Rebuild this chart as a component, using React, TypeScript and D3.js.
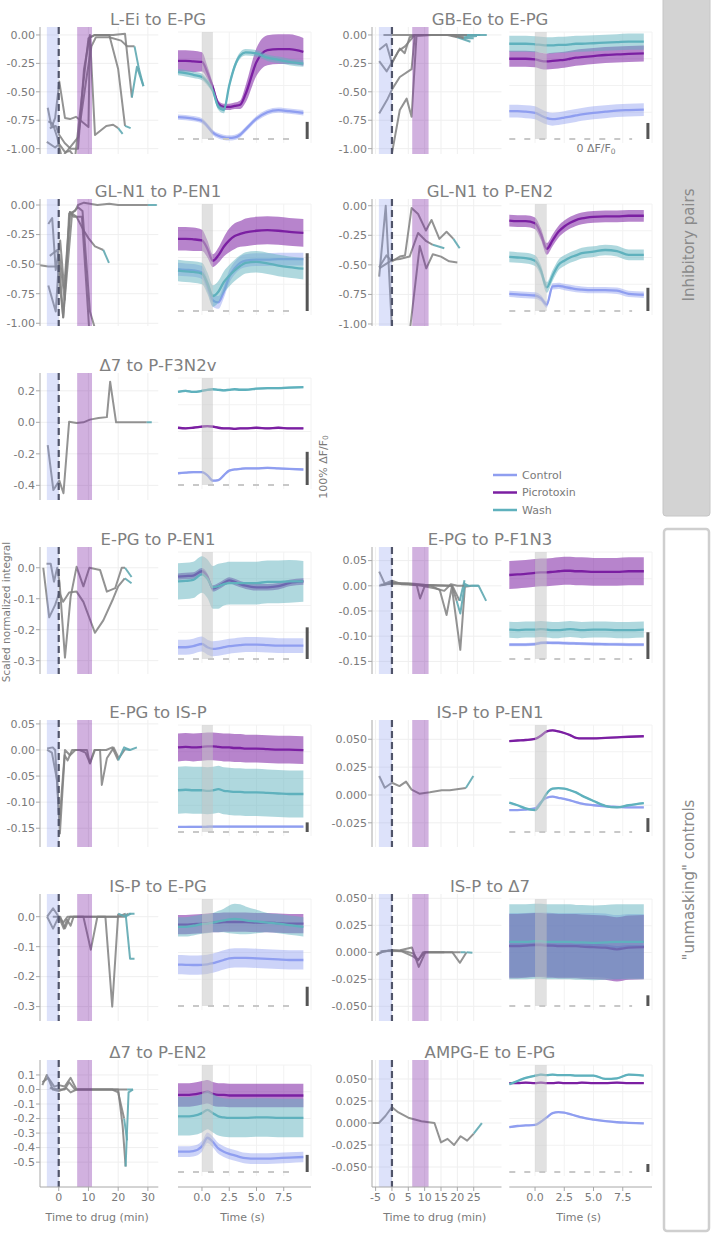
import React from 'react';
import * as d3 from 'd3';

type P = [number, number];
type MiniLine = { pts: P[]; wash: number };
type Series = { mean: number[]; sd: number | number[] };
type Traces = { control: Series; picrotoxin: Series; wash: Series };

const W = 713;
const H = 1235;
const FONT = 'DejaVu Sans, Verdana, sans-serif';
const TXT = '#7a7a7a';
const C_CTRL = '#8f9ef0';
const C_PICRO = '#7b1fa2';
const C_WASH = '#5fb1bd';
const C_LINE = '#808080';
const C_LINE_WASH = '#5fa9b1';

// sample times of the averaged traces (s)
const traceTimes = [-2.2, -1.5, -0.8, 0, 0.5, 1, 1.5, 2, 2.5, 3, 3.5, 4, 5, 6, 7, 8, 9.3];
const legendNames = ['Control', 'Picrotoxin', 'Wash'];
const legendColors = [C_CTRL, C_PICRO, C_WASH];
const drugTicksLeft = [0, 10, 20, 30];
const drugTicksRight = [-5, 0, 5, 10, 15, 20, 25];
const timeTicks = [0, 2.5, 5, 7.5];

// ---------- L-Ei to E-PG
const leiLines: MiniLine[] = [
  { pts: [[-3.7, -0.64], [-2.4, -0.81], [-1.2, -0.73], [0.2, -0.41], [2.1, -0.73], [3.8, -0.74], [5.8, -0.72], [10, -0.81], [10.5, -0.02], [12.2, 0], [18.3, 0], [22.3, 0.01], [24.6, -0.55], [26.3, -0.28], [28.5, -0.45]], wash: 12 },
  { pts: [[-4, -0.94], [-1.2, -0.99], [0.2, -0.96], [2.1, -1.03], [3.8, -1.02], [5.5, -1.08], [8.3, -0.42], [10, -0.03], [12.2, 0], [17, 0], [20, -0.3], [22.3, -0.8], [24.2, -0.82]], wash: 11 },
  { pts: [[-3.5, -0.76], [-2, -0.78], [-0.5, -0.9], [1, -1.08], [6.5, -0.9], [9.5, -0.35], [11, -0.1], [12.5, -0.02], [17, -0.02], [21, -0.05], [23, -0.1], [25.5, -0.1], [27, -0.3], [28.5, -0.45]], wash: 11 },
  { pts: [[-3, -0.82], [-1, -0.8], [0.2, -0.88], [2, -0.95], [4, -1.0], [6.5, -1.0], [8.5, -0.3], [10.5, 0], [12.2, -0.88], [16, -0.8], [18.3, -0.79], [20, -0.82], [21.5, -0.87]], wash: 11 },
];
const leiTrace: Traces = {
  control: { mean: [20.5, 20, 19, 17, 12, 6, 3, 1.5, 1, 1.5, 4, 9, 19, 25, 27, 26, 24.5], sd: 2.5 },
  picrotoxin: { mean: [73, 73, 72.5, 72, 62, 48, 33, 30, 30, 31, 32, 42, 72, 83, 84, 84, 81.5], sd: [10, 10, 10, 9, 6, 4, 3, 3, 3, 3, 4, 8, 13, 14, 14, 14, 13] },
  wash: { mean: [62.5, 61.5, 60, 58, 53, 45, 30, 27, 50, 68, 78, 81, 80, 76, 74, 72, 70.5], sd: 3 },
};

// ---------- GB-Eo to E-PG
const gbeoLines: MiniLine[] = [
  { pts: [[-2.6, 0], [0, 0], [3, 0], [6, 0], [10, 0], [15, 0], [20, 0], [25, 0], [29, 0]], wash: 6 },
  { pts: [[-3.9, -0.13], [-1.7, -0.08], [0, -0.25], [2.4, -0.12], [3.9, -0.16], [5.4, -0.02], [7, 0], [12, 0], [18, 0], [22, -0.02], [26, -0.01]], wash: 9 },
  { pts: [[-3.9, -0.23], [-1.6, -0.32], [0, -0.24], [2, -0.14], [4, -0.1], [7, 0], [13, 0], [19, 0], [23, 0], [27, 0]], wash: 8 },
  { pts: [[-3.9, -0.69], [-1.3, -0.56], [0.2, -0.47], [2.4, -0.37], [6, -0.3], [7, 0], [12, 0], [17, 0], [20, -0.02], [24, -0.06]], wash: 8 },
  { pts: [[0, -1.04], [2.4, -0.66], [4.5, -0.56], [6, -0.72], [7.5, -0.01], [12, 0], [18, 0], [22, -0.03], [25, -0.03]], wash: 7 },
];
const gbeoTrace: Traces = {
  control: { mean: [26, 26, 25.5, 24.5, 22, 19.5, 18.5, 19, 20, 21, 22, 23, 24.5, 25.5, 26.5, 27, 27.5], sd: 6 },
  picrotoxin: { mean: [75, 75, 75, 74.5, 73, 72.5, 73, 73.5, 74, 75, 76, 76.5, 77.5, 78.5, 79, 79.5, 80], sd: 7.5 },
  wash: { mean: [89, 89, 89, 88.5, 88, 87.5, 87.5, 88, 88, 88.5, 89, 89, 89.5, 90, 90.5, 91, 91], sd: 7.5 },
};

// ---------- GL-N1 to P-EN1
const gln1en1Lines: MiniLine[] = [
  { pts: [[-6.3, -0.51], [-3.5, -0.52], [-0.3, -0.52], [1.5, -0.95], [3.8, -0.06], [6, -0.1], [8.5, -0.22], [10, -0.28], [12.2, -0.35], [15, -0.38], [16.9, -0.49]], wash: 9 },
  { pts: [[-3.5, -0.16], [-2.2, -0.11], [-1, -0.55], [0.5, -0.3], [1.8, -0.7], [3.8, -0.06], [5, -0.1], [7.8, -0.1], [10.3, -1.07]], wash: 99 },
  { pts: [[-3.5, -0.68], [-1, -0.9], [0.2, -0.42], [2, -0.8], [3.5, -0.07], [5.5, -0.05], [6.5, 0], [8.5, 0.02], [13, 0], [17, 0.01], [20, 0], [30, 0], [33, 0]], wash: 11 },
  { pts: [[-3, -0.43], [-0.5, -0.38], [0.5, -0.6], [1.5, -0.95], [4.5, -0.07], [6.5, -0.02], [8, -0.05], [10.5, -0.9], [12.5, -1.07]], wash: 99 },
];
const gln1en1Trace: Traces = {
  control: { mean: [39, 38.5, 38, 36, 24, 10, 8, 18, 32, 40, 45, 47, 48, 48, 48.5, 48.5, 48.5], sd: 6 },
  picrotoxin: { mean: [67.5, 67.5, 67, 66, 58, 47, 52, 60, 66, 70, 72, 73.5, 75, 75.5, 75, 74, 73], sd: [11, 11, 11, 10, 8, 6, 7, 9, 11, 12, 12, 13, 13, 13, 13, 13, 13] },
  wash: { mean: [37.8, 37, 36.5, 35, 26, 14, 18, 27, 33, 38, 42, 45, 46, 44.5, 42.5, 41, 39.5], sd: 10 },
};

// ---------- GL-N1 to P-EN2
const gln1en2Lines: MiniLine[] = [
  { pts: [[-3.9, -0.6], [-1.9, 0], [0, -1.05], [5.5, -1.05], [8.5, -0.34], [10.5, -0.53], [12.5, -0.41], [15, -0.43], [17.5, -0.47], [20, -0.48]], wash: 99 },
  { pts: [[-3.9, -0.52], [-1.7, -0.42], [0, -0.47], [2.4, -0.43], [4, -0.42], [6, -0.02], [8, -0.07], [10.4, -0.21], [12.1, -0.12], [14.5, -0.28], [16.7, -0.22], [18.8, -0.28], [20.7, -0.36]], wash: 11 },
  { pts: [[-3.9, -0.53], [0, -0.46], [2.4, -0.45], [5.4, -0.43], [8, -0.23], [10.5, -0.3], [12.5, -0.33], [16, -0.36]], wash: 6 },
];
const gln1en2Trace: Traces = {
  control: { mean: [16, 15.5, 15, 14.5, 12, 6, 23, 23.5, 22.5, 21.5, 20.5, 20, 19.5, 19.5, 19, 16, 15.2], sd: 3 },
  picrotoxin: { mean: [84.5, 84, 84, 82, 72, 58, 66, 74, 79, 82.5, 85, 86.5, 88, 88.5, 88.5, 89, 89], sd: 5.5 },
  wash: { mean: [50.5, 50, 49.5, 47, 38, 22, 33, 43, 47, 50, 52, 54, 55.5, 57, 56, 52.5, 52.5], sd: 5 },
};

// ---------- Δ7 to P-F3N2v
const d7f3Lines: MiniLine[] = [
  { pts: [[-3.7, -0.144], [-1.8, -0.43], [0.2, -0.37], [1.6, -0.45], [3.5, 0.004], [6, -0.005], [8.3, 0], [10.5, 0.017], [13.4, 0.027], [16.2, 0.033], [17.3, 0.258], [19.3, 0], [22.9, 0], [29.6, 0], [31.3, 0]], wash: 13 },
];
const d7f3Trace: Traces = {
  control: { mean: [11, 11.5, 12, 12, 9, 4, 4.5, 9, 13.5, 14.5, 15, 15.5, 15.5, 16, 15.5, 15, 14.5], sd: 1 },
  picrotoxin: { mean: [53.5, 53, 53.5, 54.5, 55, 54.5, 53.5, 53, 53, 52.5, 53, 53, 53.5, 53, 53.5, 53, 53], sd: 1 },
  wash: { mean: [87, 88, 87, 88, 89, 89.5, 89, 88.5, 89, 89.5, 89, 89, 90, 90.5, 90.5, 91, 91.5], sd: 1 },
};

// ---------- E-PG to P-EN1
const epgen1Lines: MiniLine[] = [
  { pts: [[-5.2, 0], [-3.2, -0.16], [-1.2, -0.12], [0.2, -0.08], [1.5, -0.11], [3.5, -0.08], [6, -0.077], [8.3, -0.11], [12.2, -0.21], [15, -0.17], [18.3, -0.1], [20, -0.06], [22.2, -0.034], [24.5, -0.05]], wash: 12 },
  { pts: [[-4.1, 0.013], [-2.7, 0.013], [-1.6, -0.045], [-0.5, 0], [0.3, -0.05], [2.1, -0.29], [4, -0.094], [6, 0.003], [8.3, -0.06], [10.3, 0], [13.9, -0.007], [16.2, -0.077], [19, -0.066], [21.2, 0], [22.3, 0], [24.5, -0.03]], wash: 14 },
];
const epgen1Trace: Traces = {
  control: { mean: [11, 11, 12, 14, 11, 9.5, 10, 11, 12, 12.5, 13, 13.5, 13.5, 13, 12.5, 12.5, 12.5], sd: 7 },
  picrotoxin: { mean: [77, 77.5, 78, 82, 77, 66, 68, 71, 73.5, 72, 70, 68.5, 67, 67, 68, 71, 72.5], sd: 3 },
  wash: { mean: [72.5, 73, 74, 79, 75, 67, 68, 70, 71, 71, 71, 71, 71, 72, 72, 72.5, 72.5], sd: [17, 17, 17, 17, 18, 20, 21, 20, 20, 20, 20, 20, 20, 20, 20, 20, 19] },
};

// ---------- E-PG to P-F1N3
const epgf1Lines: MiniLine[] = [
  { pts: [[-3.9, 0.028], [-2.2, 0.004], [0, 0.01], [3, 0.003], [6, 0.002], [7.6, 0.001], [8.6, -0.025], [10.1, 0.001], [14, 0], [16.7, 0], [18.5, 0], [20.7, -0.03], [22.2, 0.011]], wash: 11 },
  { pts: [[-3.9, 0], [-2, 0.003], [0, 0.005], [4, 0.004], [8, 0.002], [12, 0], [14.6, -0.008], [16.7, -0.058], [18.3, -0.002], [20.9, -0.127], [22.3, -0.002], [24.4, 0], [26.5, 0], [28.8, -0.03]], wash: 11 },
  { pts: [[-3.5, 0.002], [0, 0.004], [5, 0.005], [10, 0.002], [15, 0.001], [18.3, 0], [19.8, -0.03], [20.9, -0.055], [22.3, 0.004], [23.4, 0]], wash: 6 },
  { pts: [[-3, 0.001], [0, 0.006], [6, 0.003], [9, 0], [13, -0.005], [16, -0.01], [18, 0.003], [20, 0], [22, 0], [24.5, 0], [26.5, 0]], wash: 8 },
];
const epgf1Trace: Traces = {
  control: { mean: [13.4, 13.4, 13.5, 14, 15, 15.2, 15, 15, 14.8, 14.6, 14.5, 14.3, 14, 13.8, 13.6, 13.5, 13.4], sd: 1.5 },
  picrotoxin: { mean: [78.5, 79, 79.5, 80.5, 81, 81, 81.5, 82, 82.5, 82.5, 82, 82, 81.5, 81.5, 81.5, 82, 82], sd: 13 },
  wash: { mean: [27.4, 27, 27.5, 27.5, 28, 27.5, 27, 27, 27.5, 28, 27.5, 27, 27.5, 27.5, 27, 27, 27.5], sd: 7.5 },
};

// ---------- E-PG to IS-P
const epgispLines: MiniLine[] = [
  { pts: [[-3.9, 0.003], [-2, 0.005], [-1.2, 0], [0.2, -0.14], [2.1, 0], [3.8, -0.01], [5.6, 0], [9.5, 0], [10.5, -0.026], [12.2, 0], [13.9, 0], [14.5, -0.067], [16.2, -0.016], [18.5, 0.0045], [20.2, -0.016], [22.3, 0.0015], [24, 0], [26.3, 0.005]], wash: 15 },
  { pts: [[-3.9, 0], [-2.3, -0.005], [-0.5, -0.06], [0.4, -0.16], [2, -0.01], [3, -0.02], [4.5, 0], [7, 0], [9, -0.005], [10.5, -0.025], [12, 0], [16, 0], [18, 0.005], [20, -0.02], [22, 0.005], [24, 0]], wash: 13 },
];
const epgispTrace: Traces = {
  control: { mean: [4.7, 4.7, 4.8, 4.8, 4.9, 5, 5, 5, 5, 5, 5, 5, 5, 5, 5, 5, 5], sd: 1 },
  picrotoxin: { mean: [79, 79.5, 79, 79.5, 80, 80, 79.5, 79, 79, 78.5, 78.5, 78, 78, 77.5, 77, 77, 76.5], sd: 13 },
  wash: { mean: [39, 39.5, 39, 39, 38.5, 39, 40, 38.5, 38, 37.5, 37.5, 37, 37, 36.5, 36, 35.5, 35.5], sd: 22 },
};

// ---------- IS-P to P-EN1
const ispen1Lines: MiniLine[] = [
  { pts: [[-3.9, 0.017], [-2.2, 0.0065], [0, 0.011], [2.3, 0.008], [4.3, 0.012], [6, 0.0048], [8.4, 0.0012], [11.6, 0.0024], [15.2, 0.0042], [17.7, 0.0042], [22.6, 0.0063], [24.9, 0.017]], wash: 10 },
];
const ispen1Trace: Traces = {
  control: { mean: [20.5, 20.5, 21, 22, 28, 32, 33, 32, 31, 29.5, 28, 26.5, 25, 24, 23.5, 23, 23], sd: 0.8 },
  picrotoxin: { mean: [85, 85.5, 86, 87, 90, 94, 95, 94, 92.5, 90.5, 88, 87.5, 87.5, 88, 88.5, 89, 89.5], sd: 0.8 },
  wash: { mean: [27.5, 25, 22, 20.5, 27, 36, 40.5, 41, 40.5, 39, 37, 34, 29, 24.5, 23, 25, 27], sd: 0.8 },
};

// ---------- IS-P to E-PG
const ispepgLines: MiniLine[] = [
  { pts: [[-3.9, 0], [-1.9, 0.028], [0, 0], [1.5, -0.02], [3, 0], [6, 0], [9, 0], [14, 0], [18, 0], [22, 0], [23.5, 0.01], [25.5, 0.01]], wash: 10 },
  { pts: [[-3.9, 0], [-1.9, -0.04], [0, 0], [1.7, -0.04], [2.8, -0.01], [4, -0.03], [5, 0], [8.3, 0], [10.8, -0.11], [13, 0], [20, 0], [22.5, 0.01], [24, -0.14], [25.5, -0.14]], wash: 11 },
  { pts: [[-2, 0], [0.5, 0], [2.1, -0.039], [3.8, 0], [8, 0], [12, 0], [15.7, 0], [18, -0.3], [20, 0.01], [22.4, 0], [24.3, 0.01]], wash: 8 },
];
const ispepgTrace: Traces = {
  control: { mean: [38.7, 38.5, 38.3, 38.5, 39, 40, 41.5, 43, 44.5, 45, 45, 45, 44.5, 44, 43.5, 43, 43], sd: 9 },
  picrotoxin: { mean: [76, 76, 76.5, 77, 77.5, 78, 78, 78.5, 78.5, 78.5, 78.5, 78.5, 78, 78, 77.5, 77, 77], sd: 9 },
  wash: { mean: [74, 74, 75, 76.5, 77, 78, 79, 80, 81, 81.5, 81, 80, 79, 78, 77, 75.5, 74], sd: [9, 9, 9, 9, 9, 9, 10, 11, 13, 14, 14, 13, 11, 9, 9, 9, 9] },
};

// ---------- IS-P to Δ7
const ispd7Lines: MiniLine[] = [
  { pts: [[-4.8, -0.0025], [-2.8, 0.0007], [0, 0.0016], [2.5, 0.002], [6.1, 0.0045], [8.2, -0.0135], [10.2, 0], [15, 0], [18.5, 0], [20.8, -0.0097], [22.8, 0], [24.6, -0.0005]], wash: 10 },
  { pts: [[-4.5, -0.001], [-1, 0.0016], [3, 0.001], [6.6, -0.004], [8, -0.007], [10, 0], [14, 0], [18, 0], [21, 0], [22.5, 0]], wash: 8 },
  { pts: [[-3.5, 0.001], [0.5, 0.002], [4, 0.001], [6.5, -0.001], [8, -0.0075], [9.5, 0], [12, 0], [16, 0]], wash: 7 },
];
const ispd7Trace: Traces = {
  control: { mean: [57, 57, 57, 57.5, 57.5, 57.5, 57, 57, 57, 57, 57, 57, 57, 56.5, 55, 56, 56], sd: 30 },
  picrotoxin: { mean: [56, 56, 56.5, 57, 57, 56.5, 56.5, 56, 56, 56, 56, 55.5, 55, 54.5, 53, 54.5, 55], sd: 30 },
  wash: { mean: [60, 60, 60, 60.5, 60.5, 60, 60, 60, 60, 60, 59.5, 59.5, 59, 59.5, 60, 60, 60], sd: 35 },
};

// ---------- Δ7 to P-EN2
const d7en2Lines: MiniLine[] = [
  { pts: [[-5.5, 0.05], [-3.5, 0.08], [-1.5, 0.02], [0, 0.03], [2, 0.02], [4, 0.08], [6, 0], [10, 0], [15, 0], [20, 0], [21.5, -0.25], [22.5, -0.53], [23.5, -0.02], [25, 0]], wash: 11 },
  { pts: [[-5.5, 0.03], [-4, 0.1], [-2, 0], [0, -0.01], [2.5, 0.01], [4, -0.02], [6, 0], [12, 0], [18, 0], [20, -0.02], [22, -0.2], [23, -0.35]], wash: 10 },
  { pts: [[-3, 0.01], [0, 0], [2, 0], [3.5, 0.05], [5.5, 0], [20, 0], [23, 0], [25, 0]], wash: 6 },
];
const d7en2Trace: Traces = {
  control: { mean: [19, 19, 19.5, 24, 32, 28, 22, 19, 17, 15.5, 14, 13, 12.5, 12.5, 13, 13.5, 14], sd: 5 },
  picrotoxin: { mean: [72, 72, 72.5, 74, 75, 73, 72, 72, 71.5, 71.5, 71.5, 71.5, 71.5, 71.5, 71.5, 71.5, 71.5], sd: 11 },
  wash: { mean: [52, 52, 52.5, 55, 58, 55, 52, 51, 50.5, 50.5, 50.5, 50.5, 51, 51, 50.5, 50.5, 50.5], sd: 18 },
};

// ---------- AMPG-E to E-PG
const ampgLines: MiniLine[] = [
  { pts: [[-6, 0], [-4, 0], [-2, 0.008], [0, 0.018], [2, 0.012], [5, 0.006], [9, 0.002], [13, 0], [15, -0.022], [17, -0.018], [19, -0.025], [21, -0.015], [23, -0.02], [25, -0.012], [27.5, 0]], wash: 13 },
];
const ampgTrace: Traces = {
  control: { mean: [42, 43, 43.5, 44, 47, 51, 55, 56, 55.5, 54, 52.5, 51, 49, 47.5, 46.5, 46, 45.5], sd: 0.8 },
  picrotoxin: { mean: [83, 83, 83.5, 83, 83.5, 83, 83, 83.5, 83, 83, 83, 83.5, 83, 83, 83.5, 83, 83], sd: 0.8 },
  wash: { mean: [82, 85, 88, 90, 91, 90.5, 91, 90.5, 90.5, 90.5, 90, 90, 90, 87, 87.5, 91, 90], sd: 0.8 },
};

// ---------- layout
const PLOT_H = 127;
const rowTops = [27, 199, 373, 547, 720, 894, 1060];
const traceDomain = [-2.2, 10];
const cols = [
  { miniRange: [40, 158.3], miniDomain: [-6.3, 33.5], traceRange: [178, 311], titleX: 158, drugTicks: drugTicksLeft },
  { miniRange: [372, 501.5], miniDomain: [-6.1, 33.5], traceRange: [509.3, 652], titleX: 490, drugTicks: drugTicksRight },
];

const panels = [
  { title: 'L-Ei to E-PG', col: 0, row: 0, yDomain: [-1.047, 0.07], yTicks: [0, -0.25, -0.5, -0.75, -1], dec: 2, lines: leiLines, traces: leiTrace, bar: 16 },
  { title: 'GB-Eo to E-PG', col: 1, row: 0, yDomain: [-1.047, 0.07], yTicks: [0, -0.25, -0.5, -0.75, -1], dec: 2, lines: gbeoLines, traces: gbeoTrace, bar: 15 },
  { title: 'GL-N1 to P-EN1', col: 0, row: 1, yDomain: [-1.023, 0.051], yTicks: [0, -0.25, -0.5, -0.75, -1], dec: 2, lines: gln1en1Lines, traces: gln1en1Trace, bar: 54 },
  { title: 'GL-N1 to P-EN2', col: 1, row: 1, yDomain: [-1.017, 0.057], yTicks: [0, -0.25, -0.5, -0.75, -1], dec: 2, lines: gln1en2Lines, traces: gln1en2Trace, bar: 21.7 },
  { title: 'Δ7 to P-F3N2v', col: 0, row: 2, yDomain: [-0.493, 0.313], yTicks: [0.2, 0, -0.2, -0.4], dec: 1, lines: d7f3Lines, traces: d7f3Trace, bar: 31 },
  { title: 'E-PG to P-EN1', col: 0, row: 3, yDomain: [-0.343, 0.067], yTicks: [0, -0.1, -0.2, -0.3], dec: 1, lines: epgen1Lines, traces: epgen1Trace, bar: 29.6 },
  { title: 'E-PG to P-F1N3', col: 1, row: 3, yDomain: [-0.175, 0.077], yTicks: [0.05, 0, -0.05, -0.1, -0.15], dec: 2, lines: epgf1Lines, traces: epgf1Trace, bar: 25 },
  { title: 'E-PG to IS-P', col: 0, row: 4, yDomain: [-0.186, 0.0575], yTicks: [0.05, 0, -0.05, -0.1, -0.15], dec: 2, lines: epgispLines, traces: epgispTrace, bar: 9 },
  { title: 'IS-P to P-EN1', col: 1, row: 4, yDomain: [-0.0467, 0.0673], yTicks: [0.05, 0.025, 0, -0.025], dec: 3, lines: ispen1Lines, traces: ispen1Trace, bar: 13 },
  { title: 'IS-P to E-PG', col: 0, row: 5, yDomain: [-0.348, 0.0757], yTicks: [0, -0.1, -0.2, -0.3], dec: 1, lines: ispepgLines, traces: ispepgTrace, bar: 18 },
  { title: 'IS-P to Δ7', col: 1, row: 5, yDomain: [-0.0636, 0.054], yTicks: [0.05, 0.025, 0, -0.025, -0.05], dec: 3, lines: ispd7Lines, traces: ispd7Trace, bar: 10 },
  { title: 'Δ7 to P-EN2', col: 0, row: 6, yDomain: [-0.671, 0.203], yTicks: [0.1, 0, -0.1, -0.2, -0.3, -0.4, -0.5], dec: 1, lines: d7en2Lines, traces: d7en2Trace, bar: 16 },
  { title: 'AMPG-E to E-PG', col: 1, row: 6, yDomain: [-0.0727, 0.0716], yTicks: [0.05, 0.025, 0, -0.025, -0.05], dec: 3, lines: ampgLines, traces: ampgTrace, bar: 7.5 },
];

const fmt = (v: number, dec: number) => (Math.abs(v) < 1e-9 ? 0 : v).toFixed(dec);
const sdAt = (s: Series, i: number) => (Array.isArray(s.sd) ? s.sd[i] : s.sd);

function Panel({ p, idx }: { p: any; idx: number }) {
  const col = cols[p.col];
  const top = rowTops[p.row];
  const bottom = top + PLOT_H;
  const x = d3.scaleLinear().domain(col.miniDomain).range(col.miniRange);
  const y = d3.scaleLinear().domain(p.yDomain).range([bottom, top]);
  const tx = d3.scaleLinear().domain(traceDomain).range(col.traceRange);
  const ty = d3.scaleLinear().domain([0, 100]).range([top + 112, top + 5]);
  const line = d3.line<P>().x(d => x(d[0])).y(d => y(d[1]));
  const clipId = `clip${idx}`;
  const isBottom = p.row === 6;

  const seriesList: [Series, string, number][] = [
    [p.traces.control, C_CTRL, 0.45],
    [p.traces.picrotoxin, C_PICRO, 0.55],
    [p.traces.wash, C_WASH, 0.5],
  ];
  const meanLine = d3.line<number>().x((_, i) => tx(traceTimes[i])).y(d => ty(d)).curve(d3.curveMonotoneX);

  return (
    <g>
      <defs>
        <clipPath id={clipId}>
          <rect x={col.miniRange[0]} y={top} width={col.miniRange[1] - col.miniRange[0]} height={PLOT_H} />
        </clipPath>
      </defs>
      <text x={col.titleX} y={top - 2} textAnchor="middle" fontSize={16.5} fill="#808080">{p.title}</text>

      {/* mini plot grid */}
      {p.yTicks.map((v: number) => (
        <line key={'gy' + v} x1={col.miniRange[0]} x2={col.miniRange[1]} y1={y(v)} y2={y(v)} stroke="#efefef" />
      ))}
      {col.drugTicks.map(t => (
        <line key={'gx' + t} x1={x(t)} x2={x(t)} y1={top} y2={bottom} stroke="#efefef" />
      ))}

      {/* experiment lines */}
      <g clipPath={`url(#${clipId})`} fill="none" strokeWidth={2} strokeLinejoin="round">
        {p.lines.map((l: MiniLine, i: number) => {
          const w = Math.min(l.wash, l.pts.length - 1);
          return (
            <g key={i}>
              <path d={line(l.pts.slice(0, w + 1)) || ''} stroke={C_LINE} strokeOpacity={0.85} />
              {w < l.pts.length - 1 && <path d={line(l.pts.slice(w)) || ''} stroke={C_LINE_WASH} strokeOpacity={0.9} />}
            </g>
          );
        })}
      </g>
      <rect x={x(-4)} width={x(0) - x(-4)} y={top} height={PLOT_H} fill={C_CTRL} fillOpacity={0.3} />
      <rect x={x(6.2)} width={x(11.2) - x(6.2)} y={top} height={PLOT_H} fill={C_PICRO} fillOpacity={0.35} />
      <line x1={x(0)} x2={x(0)} y1={top} y2={bottom} stroke="#50546a" strokeWidth={2.2} strokeDasharray="7 4" />

      {/* y axis */}
      <line x1={col.miniRange[0]} x2={col.miniRange[0]} y1={top} y2={bottom} stroke="#a8a8a8" />
      {p.yTicks.map((v: number) => (
        <g key={'t' + v}>
          <line x1={col.miniRange[0] - 4} x2={col.miniRange[0]} y1={y(v)} y2={y(v)} stroke="#a8a8a8" />
          <text x={col.miniRange[0] - 5} y={y(v)} dy="0.35em" textAnchor="end" fontSize={11} fill={TXT}>{fmt(v, p.dec)}</text>
        </g>
      ))}

      {/* trace panel */}
      {[25, 50, 75, 100].map(v => (
        <line key={'th' + v} x1={col.traceRange[0]} x2={col.traceRange[1]} y1={ty(v)} y2={ty(v)} stroke="#f2f2f2" />
      ))}
      {[0, 2.5, 5, 7.5, 10].map(t => (
        <line key={'tv' + t} x1={tx(t)} x2={tx(t)} y1={ty(100)} y2={ty(0) + 4} stroke="#f2f2f2" />
      ))}
      {seriesList.map(([s, c, a], i) => {
        const area = d3.area<number>()
          .x((_, j) => tx(traceTimes[j]))
          .y0((d, j) => ty(d - sdAt(s, j)))
          .y1((d, j) => ty(d + sdAt(s, j)))
          .curve(d3.curveMonotoneX);
        return (
          <g key={i}>
            <path d={area(s.mean) || ''} fill={c} fillOpacity={a} />
            <path d={meanLine(s.mean) || ''} fill="none" stroke={c} strokeWidth={2.3} />
          </g>
        );
      })}
      <rect x={tx(0)} width={tx(1) - tx(0)} y={ty(100)} height={ty(0) - ty(100)} fill="#c4c4c4" fillOpacity={0.5} />
      <line x1={tx(-2.2)} x2={tx(8.3)} y1={ty(0)} y2={ty(0)} stroke="#c8c8c8" strokeWidth={2} strokeDasharray="6 9" />
      <line x1={tx(9.65)} x2={tx(9.65)} y1={ty(0)} y2={ty(p.bar)} stroke="#555" strokeWidth={3} />

      {isBottom && (
        <g fontSize={11} fill={TXT}>
          <line x1={col.miniRange[0]} x2={col.miniRange[1]} y1={bottom} y2={bottom} stroke="#a8a8a8" />
          {col.drugTicks.map(t => (
            <g key={'bx' + t}>
              <line x1={x(t)} x2={x(t)} y1={bottom} y2={bottom + 4} stroke="#a8a8a8" />
              <text x={x(t)} y={bottom + 14} textAnchor="middle">{t}</text>
            </g>
          ))}
          <text x={(col.miniRange[0] + col.miniRange[1]) / 2 - 2} y={bottom + 34} textAnchor="middle">Time to drug (min)</text>
          <line x1={col.traceRange[0]} x2={col.traceRange[1]} y1={bottom} y2={bottom} stroke="#a8a8a8" />
          {timeTicks.map(t => (
            <g key={'tt' + t}>
              <line x1={tx(t)} x2={tx(t)} y1={bottom} y2={bottom + 4} stroke="#a8a8a8" />
              <text x={tx(t)} y={bottom + 14} textAnchor="middle">{t.toFixed(1)}</text>
            </g>
          ))}
          <text x={(col.traceRange[0] + col.traceRange[1]) / 2 - 2} y={bottom + 34} textAnchor="middle">Time (s)</text>
        </g>
      )}
    </g>
  );
}

export default function App() {
  return (
    <svg width={W} height={H} style={{ position: 'absolute', left: 0, top: 0 }} fontFamily={FONT}>
      <rect width={W} height={H} fill="#fff" />

      {/* group boxes */}
      <rect x={663} y={-6} width={47} height={522} rx={3} fill="#d3d3d3" stroke="#c6c6c6" />
      <text transform="translate(689,245) rotate(-90)" textAnchor="middle" dominantBaseline="central" fontSize={15} fill="#8a8a8a">Inhibitory pairs</text>
      <rect x={664} y={529} width={45} height={702} rx={3} fill="#fff" stroke="#cfcfcf" strokeWidth={2.5} />
      <text transform="translate(689,880) rotate(-90)" textAnchor="middle" dominantBaseline="central" fontSize={15} fill="#8a8a8a">"unmasking" controls</text>

      {panels.map((p, i) => <Panel key={i} p={p} idx={i} />)}

      {/* legend */}
      {legendNames.map((n, i) => (
        <g key={n}>
          <line x1={493} x2={517} y1={475 + i * 17.5} y2={475 + i * 17.5} stroke={legendColors[i]} strokeWidth={2.5} />
          <text x={522} y={475 + i * 17.5} dy="0.35em" fontSize={11} fill={TXT}>{n}</text>
        </g>
      ))}

      {/* annotations */}
      <text x={596} y={152} textAnchor="middle" fontSize={11} fill={TXT}>0 ΔF/F<tspan fontSize={7.5} dy={2}>0</tspan></text>
      <text transform="translate(323,467) rotate(-90)" textAnchor="middle" dominantBaseline="central" fontSize={11} fill={TXT}>100% ΔF/F<tspan fontSize={7.5} dy={2}>0</tspan></text>
      <text transform="translate(6,612) rotate(-90)" textAnchor="middle" dominantBaseline="central" fontSize={10.5} fill={TXT}>Scaled normalized integral</text>
    </svg>
  );
}
